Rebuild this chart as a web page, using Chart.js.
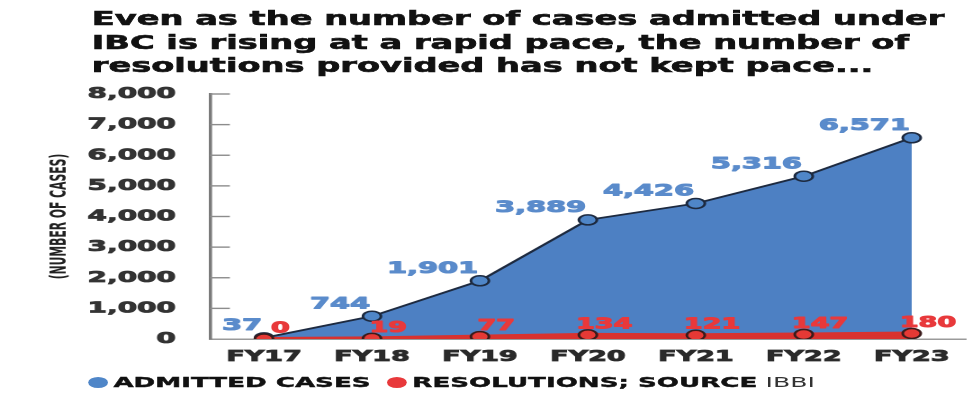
<!DOCTYPE html>
<html>
<head>
<meta charset="utf-8">
<script src="https://cdn.jsdelivr.net/npm/chart.js@4.4.1/dist/chart.umd.min.js"></script>
<style>
  html, body { margin: 0; padding: 0; background: #fff; }
  body { width: 977px; height: 400px; overflow: hidden; position: relative; }
  /* the source picture is stretched sideways, so everything is drawn narrow and widened */
  #wrap { position: absolute; left: 0; top: 0; width: 543px; height: 400px;
          transform: scaleX(1.8); transform-origin: 0 0; }
  #title { position: absolute; left: 51px; top: 7px; font-family: "DejaVu Sans", sans-serif;
           font-weight: bold; font-size: 18.7px; line-height: 23.5px; color: #111; white-space: nowrap;
           -webkit-text-stroke: 0.6px #111; }
  #chart { position: absolute; left: 0; top: 0; }
  #legend { position: absolute; left: 49px; top: 373px; font-family: "DejaVu Sans", sans-serif;
            font-size: 14.5px; line-height: 18px; color: #111; white-space: nowrap; }
  #legend .dot { display: inline-block; width: 11px; height: 11px; border-radius: 50%;
                 vertical-align: -1px; margin-right: 3px; }
  #legend b { font-weight: bold; -webkit-text-stroke: 0.4px #111; }
  #legend .src { color: #333; font-size: 14px; }
</style>
</head>
<body>
<div id="wrap">
  <div id="title">Even as the number of cases admitted under<br>IBC is rising at a rapid pace, the number of<br>resolutions provided has not kept pace...</div>
  <canvas id="chart" width="543" height="400"></canvas>
  <div id="legend"><span class="dot" style="background:#4f86c8"></span><b>ADMITTED CASES</b>&nbsp;&nbsp;<span class="dot" style="background:#e8393b"></span><b>RESOLUTIONS; SOURCE</b> <span class="src">IBBI</span></div>
</div>
<script>
const years = ['FY17', 'FY18', 'FY19', 'FY20', 'FY21', 'FY22', 'FY23'];
const admittedCases = [37, 744, 1901, 3889, 4426, 5316, 6571];
const resolutions = [0, 19, 77, 134, 121, 147, 180];

const BLUE = '#4d80c3';
const RED = '#e53935';

// y ticks in the picture point into the plot, not out of it
const innerTicks = {
  id: 'innerTicks',
  beforeDatasetsDraw(chart) {
    const y = chart.scales.y
    const ctx = chart.ctx
    ctx.save()
    ctx.strokeStyle = '#8c8c8c'
    ctx.lineWidth = 1.4
    y.ticks.forEach(t => {
      if (t.value === 0) return
      const py = y.getPixelForValue(t.value)
      ctx.beginPath()
      ctx.moveTo(y.right, py)
      ctx.lineTo(y.right + 11, py)
      ctx.stroke()
    })
    ctx.restore()
  }
};

const valueLabels = {
  id: 'valueLabels',
  afterDatasetsDraw(chart) {
    const ctx = chart.ctx
    ctx.save()
    ctx.lineWidth = 1
    ctx.lineJoin = 'round'
    chart.data.datasets.forEach((ds, i) => {
      const meta = chart.getDatasetMeta(i)
      meta.data.forEach((pt, j) => {
        const txt = ds.data[j].toLocaleString('en-US')
        let x, y
        if (ds.label === 'ADMITTED CASES') {
          ctx.font = 'bold 16px "DejaVu Sans"'
          ctx.fillStyle = ctx.strokeStyle = '#5a8bcb'
          ctx.textAlign = 'right'
          x = pt.x - 1
          y = pt.y - 4
        } else {
          ctx.font = 'bold 15px "DejaVu Sans"'
          ctx.fillStyle = ctx.strokeStyle = '#e8393b'
          ctx.textAlign = 'center'
          x = pt.x + 9
          y = pt.y - 3
        }
        ctx.textBaseline = 'bottom'
        ctx.strokeText(txt, x, y)
        ctx.fillText(txt, x, y)
      })
    })
    ctx.restore()
  }
};

const config = {
  type: 'line',
  data: {
    labels: years,
    datasets: [{
      label: 'RESOLUTIONS',
      data: resolutions,
      order: 0,
      borderColor: '#d8322f',
      borderWidth: 4,
      backgroundColor: '#d8322f',
      fill: 'origin',
      tension: 0,
      pointRadius: 5,
      pointBackgroundColor: RED,
      pointBorderColor: '#3a1b1b',
      pointBorderWidth: 1.5
    }, {
      label: 'ADMITTED CASES',
      data: admittedCases,
      order: 1,
      borderColor: '#1d2a40',
      borderWidth: 1.8,
      backgroundColor: BLUE,
      fill: 'origin',
      tension: 0,
      pointRadius: 5,
      pointBackgroundColor: '#4f86c8',
      pointBorderColor: '#1d2a40',
      pointBorderWidth: 1.5
    }]
  },
  options: {
    responsive: false,
    devicePixelRatio: 2,
    animation: false,
    layout: { padding: { top: 94, left: 22, right: 0, bottom: 0 } },
    plugins: {
      legend: { display: false },
      tooltip: { enabled: false }
    },
    scales: {
      x: {
        offset: true,
        grid: { drawOnChartArea: false, drawTicks: false },
        border: { color: '#9a9a9a', width: 1.5 },
        ticks: {
          padding: 9,
          color: '#2a2a2a',
          textStrokeColor: '#2a2a2a',
          textStrokeWidth: 0.8,
          font: { family: 'DejaVu Sans', size: 15, weight: 'bold' }
        },
        afterFit: (s) => { s.height = 61 }
      },
      y: {
        min: 0,
        max: 8000,
        grid: { drawOnChartArea: false, drawTicks: false },
        border: { color: '#7a7a7a', width: 1.8 },
        ticks: {
          stepSize: 1000,
          padding: 19,
          color: '#333',
          textStrokeColor: '#333',
          textStrokeWidth: 0.8,
          font: { family: 'DejaVu Sans', size: 15.5, weight: 'bold' },
          callback: (v) => v.toLocaleString('en-US')
        },
        title: {
          display: true,
          text: '(NUMBER OF CASES)',
          color: '#222',
          padding: { top: 4, bottom: 0 },
          font: { family: '"Liberation Sans Narrow", "DejaVu Sans Condensed"', size: 12, weight: 'bold' }
        },
        afterFit: (s) => { s.width = 94.7 }
      }
    }
  },
  plugins: [innerTicks, valueLabels]
};

const chart = new Chart(document.getElementById('chart'), config);
</script>
</body>
</html>
